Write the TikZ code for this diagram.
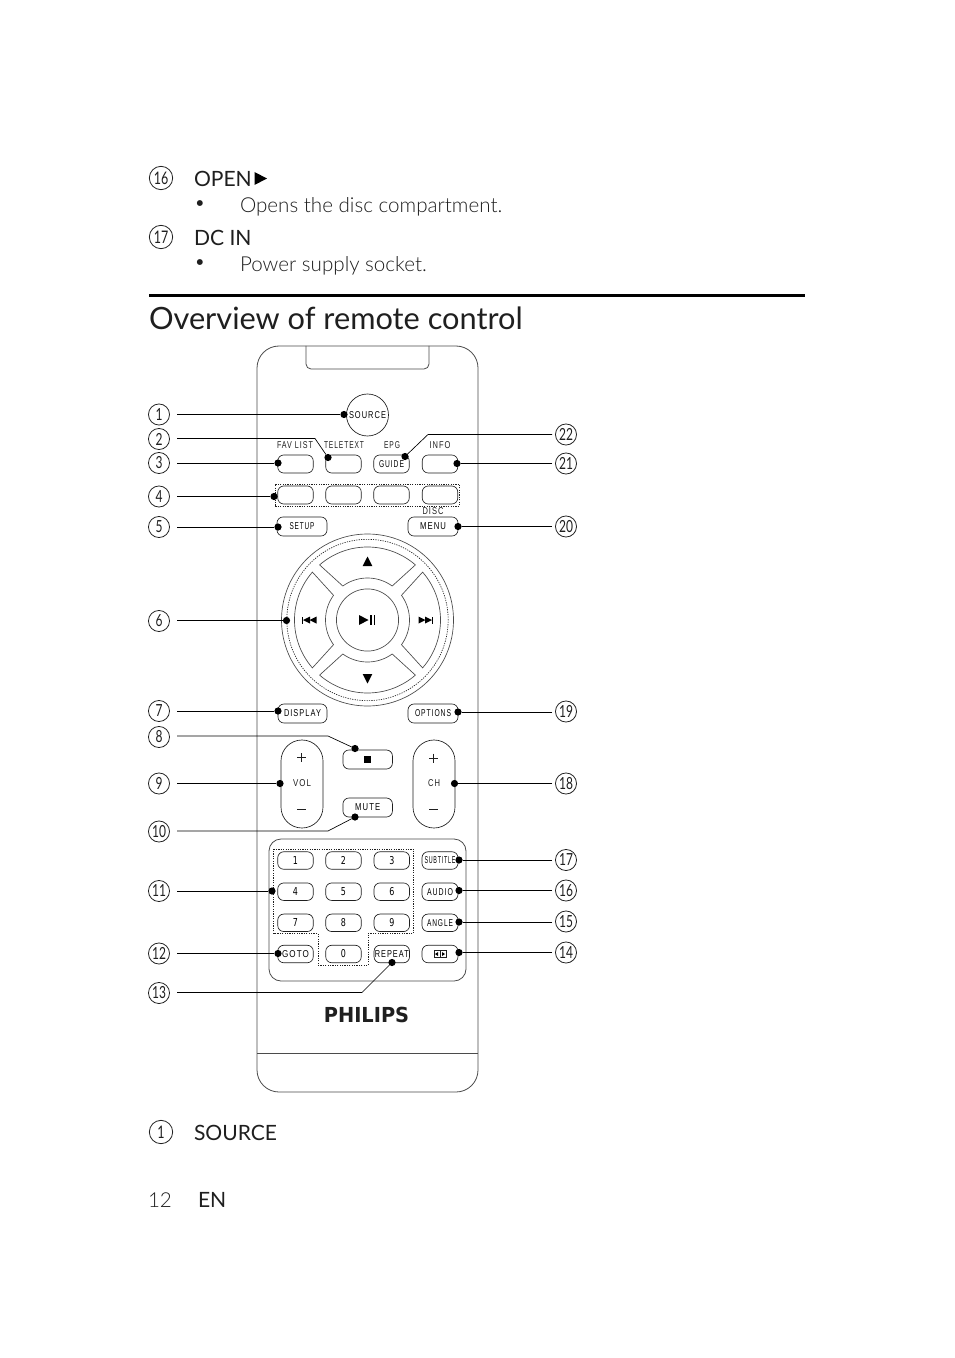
\documentclass[tikz,border=0pt]{standalone}
\usepackage{fontspec}
\usepackage{graphicx}
\setmainfont{Lato}[UprightFont=* Light,BoldFont=*]
\newfontfamily\headfont{Lato}
\newfontfamily\btnfont[LetterSpace=14]{Liberation Sans}
\newfontfamily\logofont{DejaVu Sans}
\newcommand{\pxf}[1]{\fontsize{#1}{#1}\selectfont}
% label fixed to a width in picture pixels, 7px cap height
\newcommand{\lbl}[2]{\resizebox{\dimexpr0.75pt*#1\relax}{5.2pt}{\btnfont #2}}
\newcommand{\btn}[6][]{\node[btnbox,minimum width=#4*0.75pt,minimum height=#5*0.75pt,#1] (#2) at (#3) {#6};}
\newcommand{\numtxt}[1]{\scalebox{0.72}[1]{\headfont #1}}
\definecolor{ink}{gray}{0.12}
\tikzset{
  btnbox/.style={draw=ink,line width=0.5pt,rounded corners=4.5pt,inner sep=0pt,outer sep=0pt},
  pill/.style={draw=ink,line width=0.5pt,rounded corners=15.7pt,inner sep=0pt,outer sep=0pt,minimum width=31.5pt,minimum height=66pt},
  num/.style={circle,draw=ink,line width=0.6pt,minimum size=15.8pt,inner sep=0pt,outer sep=5.6pt,text=ink,font=\pxf{12.5}},
  numr/.style={num,outer sep=2.6pt},
  bignum/.style={circle,draw=ink,line width=0.6pt,minimum size=17.5pt,inner sep=0pt,outer sep=0pt,text=ink,font=\pxf{13}},
  dotn/.style={circle,fill=black,inner sep=0pt,outer sep=0pt,minimum size=5.4pt},
  leader/.style={draw=black,line width=0.5pt},
  shell/.style={draw=ink!80,line width=0.6pt},
  txtnode/.style={inner sep=0pt,outer sep=0pt,text=ink},
  glyph/.style={fill=black,draw=none},
  dotted box/.style={draw=ink,line width=0.5pt,dash pattern=on 0.9pt off 0.9pt},
  body text/.style={txtnode,anchor=base west,font=\pxf{15.45}},
  head text/.style={txtnode,anchor=base west,font=\headfont\pxf{15.8}},
}
\begin{document}
\begin{tikzpicture}[x=0.75pt,y=-0.75pt]
\useasboundingbox (0,0) rectangle (954,1358);
\fill[white] (0,0) rectangle (954,1358);

% top text
\node[bignum] (t16) at (161,178) {\numtxt{16}};
\node[head text] (open) at (194,187) {OPEN};
\fill[glyph] (254.5,172) -- (267,178.5) -- (254.5,185) -- cycle;
\node[txtnode,font=\pxf{15}] (b1) at (200,205) {•};
\node[body text] (opens) at (240,213) {Opens the disc compartment.};
\node[bignum] (t17) at (161,237) {\numtxt{17}};
\node[head text] (dcin) at (194,246) {DC IN};
\node[txtnode,font=\pxf{15}] (b2) at (200,264) {•};
\node[body text] (psu) at (240,272) {Power supply socket.};
\fill[black] (148.5,294.2) rectangle (805,297.4);
\node[txtnode,anchor=base west,font=\headfont\pxf{23.05}] (title) at (149,330) {Overview of remote control};

% remote body
\draw[shell] (279,346) -- (456,346) arc[start angle=90,end angle=0,radius=16.5pt] -- (478,1070) arc[start angle=0,end angle=-90,radius=16.5pt] -- (279,1092) arc[start angle=-90,end angle=-180,radius=16.5pt] -- (257,368) arc[start angle=180,end angle=90,radius=16.5pt] -- cycle;
\draw[shell] (306,346) -- (306,364) arc[start angle=180,end angle=270,radius=3.75pt] -- (424,369) arc[start angle=-90,end angle=0,radius=3.75pt] -- (429,346);
\draw[shell] (257,1053) -- (478,1053);

\node[circle,draw=ink,line width=0.5pt,minimum size=31.5pt,inner sep=0pt] (source) at (367.5,415) {\lbl{37}{SOURCE}};

% row labels
\node[txtnode] (lfav) at (295,445) {\lbl{36}{FAV LIST}};
\node[txtnode] (ltele) at (344,445) {\lbl{40}{TELETEXT}};
\node[txtnode] (lepg) at (392,445) {\lbl{16}{EPG}};
\node[txtnode] (linfo) at (440,445) {\lbl{21}{INFO}};
\node[txtnode] (ldisc) at (433,511) {\lbl{21}{DISC}};

\btn{fav}{295.5,464}{35.5}{18}{}
\btn{tele}{343.5,464}{35.5}{18}{}
\btn{guide}{391.5,464}{35.5}{18}{\lbl{25}{GUIDE}}
\btn{info}{440,464}{35.5}{18}{}

\node[dotted box,minimum width=138pt,minimum height=16.5pt,inner sep=0pt] (colorbox) at (367.3,495) {};
\btn{c1}{295.5,495}{35.5}{18}{}
\btn{c2}{343.5,495}{35.5}{18}{}
\btn{c3}{391.5,495}{35.5}{18}{}
\btn{c4}{440,495}{35.5}{18}{}

\btn{setup}{302,526.5}{50}{19}{\lbl{25}{SETUP}}
\btn{menu}{433,526.5}{50}{19}{\lbl{26}{MENU}}

% navigation pad
\begin{scope}[shift={(367.5,620)},y=0.75pt]
\draw[shell,line width=0.5pt] (0,0) circle[radius=64.5pt];
\draw[line width=0.5pt,draw=ink,dash pattern=on 0.9pt off 0.9pt] (0,0) circle[radius=60.5pt];
\draw[shell,line width=0.5pt] (0,0) circle[radius=23.3pt];
\foreach \a in {0,90,180,270}{
  \draw[shell,line width=0.5pt,rotate=\a] (-41:73) arc[start angle=-41,end angle=41,radius=54.75pt] -- (36:42) arc[start angle=36,end angle=-36,radius=31.5pt] -- cycle;
}
\fill[glyph] (-4.8,54) -- (4.8,54) -- (0,63.5) -- cycle;
\fill[glyph] (-4.8,-54) -- (4.8,-54) -- (0,-63.5) -- cycle;
\fill[glyph] (-8.5,5) -- (-8.5,-5) -- (1,0) -- cycle;
\fill[glyph] (2.5,5) rectangle (4.3,-5);
\fill[glyph] (6,5) rectangle (7.8,-5);
\fill[glyph] (-65.5,3.5) rectangle (-64.5,-3.5);
\fill[glyph] (-64.5,0) -- (-57.5,3.5) -- (-57.5,-3.5) -- cycle;
\fill[glyph] (-58,0) -- (-51,3.5) -- (-51,-3.5) -- cycle;
\fill[glyph] (65.5,3.5) rectangle (64.5,-3.5);
\fill[glyph] (64.5,0) -- (57.5,3.5) -- (57.5,-3.5) -- cycle;
\fill[glyph] (58,0) -- (51,3.5) -- (51,-3.5) -- cycle;
\end{scope}

\btn{display}{302.5,713.5}{49}{19}{\lbl{37}{DISPLAY}}
\btn{options}{433,713.5}{50}{19}{\lbl{36}{OPTIONS}}

% volume, channel
\node[pill] (vol) at (302,784) {};
\node[pill] (ch) at (434,784) {};
\node[txtnode] (lvol) at (302,783.5) {\lbl{18}{VOL}};
\node[txtnode] (lch) at (434,783.5) {\lbl{12}{CH}};
\draw[ink,line width=0.5pt] (297,757.5) -- (306,757.5) (301.5,753) -- (301.5,762) (297,809) -- (306,809);
\draw[ink,line width=0.7pt] (429,758) -- (438,758) (433.5,753.5) -- (433.5,762.5) (429,809) -- (438,809);
\btn{stop}{367.7,759.5}{49.5}{19}{}
\fill[glyph] (364,756) rectangle (371.2,763);
\btn{mute}{367.7,807.5}{49.5}{19}{\lbl{25}{MUTE}}

% keypad panel
\draw[shell] (281,839) -- (454,839) arc[start angle=90,end angle=0,radius=9pt] -- (466,969) arc[start angle=0,end angle=-90,radius=9pt] -- (281,981) arc[start angle=-90,end angle=-180,radius=9pt] -- (269,851) arc[start angle=180,end angle=90,radius=9pt] -- cycle;
\draw[dotted box] (273.5,849) -- (413.5,849) -- (413.5,933.5) -- (368,933.5) -- (368,965) -- (318,965) -- (318,933.5) -- (273.5,933.5) -- cycle;
\newcommand{\digit}[1]{\resizebox{3.8pt}{6pt}{\logofont #1}}
\btn{k1}{295.5,860.5}{35.5}{17.5}{\digit{1}}
\btn{k2}{343.5,860.5}{35.5}{17.5}{\digit{2}}
\btn{k3}{391.8,860.5}{35.5}{17.5}{\digit{3}}
\btn{k4}{295.5,891.7}{35.5}{17.5}{\digit{4}}
\btn{k5}{343.5,891.7}{35.5}{17.5}{\digit{5}}
\btn{k6}{391.8,891.7}{35.5}{17.5}{\digit{6}}
\btn{k7}{295.5,922.8}{35.5}{17.5}{\digit{7}}
\btn{k8}{343.5,922.8}{35.5}{17.5}{\digit{8}}
\btn{k9}{391.8,922.8}{35.5}{17.5}{\digit{9}}
\btn{goto}{295.5,954}{35.5}{17.5}{\lbl{27}{GOTO}}
\btn{k0}{343.5,954}{35.5}{17.5}{\digit{0}}
\btn{repeat}{391.8,954}{35.5}{17.5}{\lbl{34}{REPEAT}}
\btn{subtitle}{440,860.5}{36}{17.5}{\lbl{31}{SUBTITLE}}
\btn{audio}{440,891.7}{36}{17.5}{\lbl{26}{AUDIO}}
\btn{angle}{440,922.8}{36}{17.5}{\lbl{26}{ANGLE}}
\btn{zoomkey}{440,954}{36}{17.5}{}
\draw[ink,line width=0.4pt] (434,950.5) rectangle (446,957.5) (440,950.5) -- (440,957.5);
\fill[glyph] (435,954) -- (438,952) -- (438,956) -- cycle;
\fill[glyph] (445,954) -- (442,952) -- (442,956) -- cycle;

\node[txtnode,font=\logofont\bfseries\pxf{13}] (logo) at (366.5,1015) {\resizebox{64pt}{11.5pt}{PHILIPS}};

% callout numbers, left
\foreach \n/\v/\y in {n1/1/414.5,n2/2/439,n3/3/463,n4/4/496.5,n5/5/527,n6/6/621,n7/7/711,n8/8/737,n9/9/783.5,n10/10/831.5,n11/11/891,n12/12/953.5,n13/13/993}
  \node[num] (\n) at (159,\y) {\numtxt{\v}};
% callout numbers, right
\foreach \n/\v/\y in {n22/22/434.5,n21/21/463.5,n20/20/526.5,n19/19/711.5,n18/18/783.5,n17/17/860,n16/16/890.5,n15/15/921.5,n14/14/952.5}
  \node[numr] (\n) at (566,\y) {\numtxt{\v}};

% leader dots
\foreach \n/\p in {d1/{344,414.5},d2/{328,457.5},d3/{278,463},d4/{274,496.5},d5/{278,527},d6/{286.5,620.5},d7/{278,711},d8/{355,748.5},d9/{280,783.5},d10/{355,817},d11/{272,891},d12/{278,953.5},d13/{392,962.5},d22/{405,456.5},d21/{457,463.5},d20/{458,526.5},d19/{458,712},d18/{454.5,783.5},d17/{459,860},d16/{459,890.5},d15/{459,922},d14/{459,952.5}}
  \node[dotn] (\n) at (\p) {};

% bends
\coordinate (e2) at (315,438.5);
\coordinate (e8) at (328,736);
\coordinate (e10) at (328,831);
\coordinate (e13) at (362,992.5);
\coordinate (e22) at (428,434.5);

% connectors
\foreach \i in {1,3,4,5,6,7,9,11,12}
  \draw[leader] (n\i.east |- d\i) -- (d\i);
\foreach \i in {21,20,19,18,17,16,15,14}
  \draw[leader] (n\i.west |- d\i) -- (d\i);
\foreach \i in {2,8,10,13}
  \draw[leader] (n\i.east |- e\i) -- (e\i) -- (d\i);
\draw[leader] (n22.west |- e22) -- (e22) -- (d22);

% bottom text
\node[bignum] (b1n) at (161,1132) {\numtxt{1}};
\node[head text] (srclabel) at (194,1140) {SOURCE};
\node[txtnode,anchor=base west,font=\pxf{15.45}] (pg) at (148,1207) {12};
\node[head text] (en) at (198,1207) {EN};
\end{tikzpicture}
\end{document}
